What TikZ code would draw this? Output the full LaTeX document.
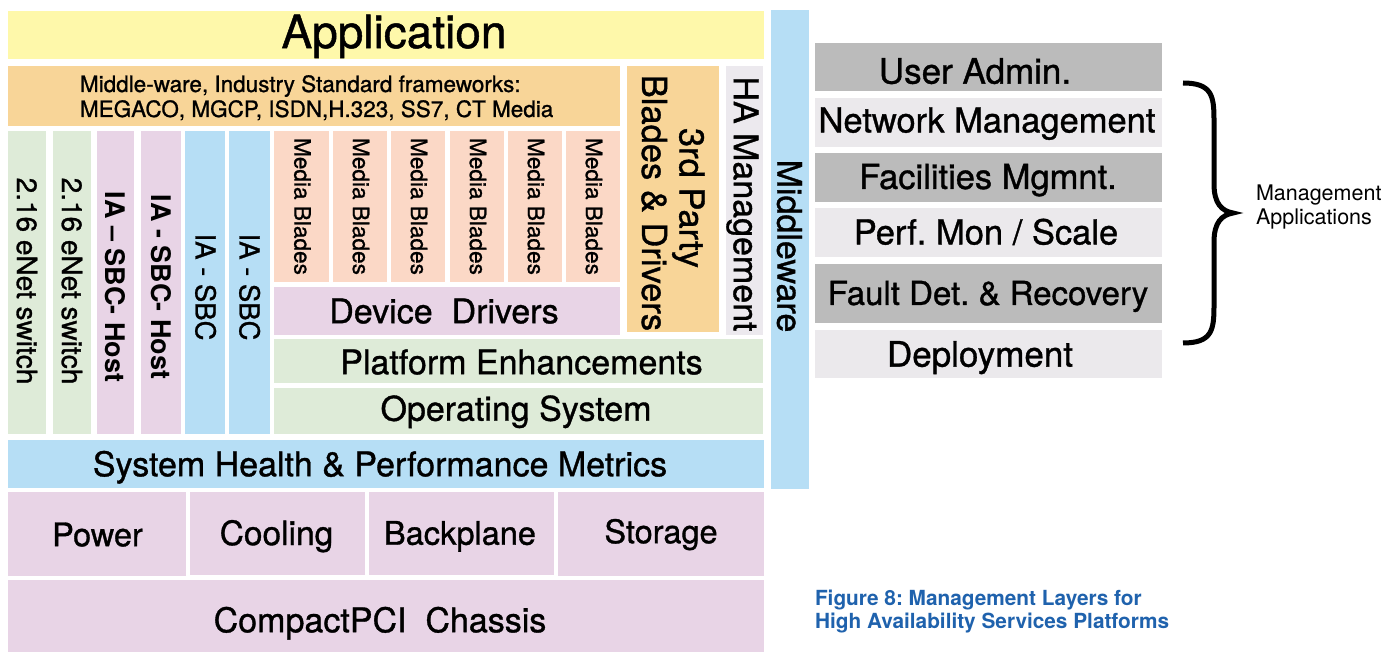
\documentclass[tikz,border=0pt]{standalone}
\usepackage{fontspec}
\setmainfont{TeX Gyre Heros}
% slightly heavier cut for the layer labels
\newfontfamily\hvmed{TeX Gyre Heros}[FakeBold=1.0]
\frenchspacing

\definecolor{appyellow}{HTML}{FEF8AA}
\definecolor{mworange}{HTML}{F8D598}
\definecolor{swgreen}{HTML}{DEEBD8}
\definecolor{mauve}{HTML}{E8D4E6}
\definecolor{skyblue}{HTML}{B6DEF5}
\definecolor{salmon}{HTML}{FBD8C6}
\definecolor{hagray}{HTML}{ECE9EE}
\definecolor{mgdark}{HTML}{BBBBBB}
\definecolor{mglight}{HTML}{EBE9EC}
\definecolor{capblue}{HTML}{1F62AD}

\newcommand{\pxfont}[1]{\fontsize{#1}{#1}\selectfont}

% \layerbox[options]{name}{fill}{x1}{y1}{x2}{y2}
\newcommand{\layerbox}[7][]{%
  \node[layer, fill=#3, minimum width={(#6-#4)*1pt}, minimum height={(#7-#5)*1pt}, #1]
    (#2) at ({(#4+#6)/2},{(#5+#7)/2}) {};}

\tikzset{
  layer/.style={rectangle, draw=none, inner sep=0pt, outer sep=0pt},
  lbl/.style={inner sep=0pt, outer sep=0pt, font=\hvmed\pxfont{#1}, text height={0.72*#1pt}, text depth=0pt},
  vlbl/.style={lbl=#1, rotate=-90},
  line/.style={inner sep=0pt, outer sep=0pt, anchor=base west, font=\pxfont{#1}},
}

\begin{document}
\begin{tikzpicture}[x=1pt,y=-1pt]
\useasboundingbox[fill=white] (0,0) rectangle (1395,652);

% ---------- top layers ----------
\layerbox{app}{appyellow}{8}{11}{764}{59}
\node[lbl=46] (appT) at (394,31.5) {Application};

\layerbox{mw}{mworange}{8}{66}{620}{126}
\node[line=22.5, font=\hvmed\pxfont{22.5}] (mwT1) at (80,92) {Middle-ware, Industry Standard frameworks:};
\node[line=22.5, font=\hvmed\pxfont{22.5}] (mwT2) at (80,117) {MEGACO, MGCP, ISDN,H.323, SS7, CT Media};

\layerbox{tp}{mworange}{627}{66}{719}{332}
\node[vlbl=34.5] (tpT1) at (692,198) {3rd Party};
\node[vlbl=34.5] (tpT2) at (654.5,203) {Blades \& Drivers};

\layerbox{ha}{hagray}{726}{66}{763}{335}
\node[vlbl=34] (haT) at (746,204) {HA Management};

\layerbox{mid}{skyblue}{771}{10}{809}{489}
\node[vlbl=34] (midT) at (789.5,246) {Middleware};

% ---------- boards ----------
\layerbox{c1}{swgreen}{8}{131}{46}{434}
\node[vlbl=28] (c1T) at (27,281) {2.16 eNet switch};
\layerbox{c2}{swgreen}{53}{131}{91}{434}
\node[vlbl=28] (c2T) at (72,281) {2.16 eNet switch};
\layerbox{c3}{mauve}{97}{131}{134}{434}
\node[vlbl=27, font=\pxfont{27}\bfseries] (c3T) at (115.5,287) {IA – SBC- Host};
\layerbox{c4}{mauve}{141}{131}{181}{434}
\node[vlbl=27, font=\pxfont{27}\bfseries] (c4T) at (161,287) {IA - SBC- Host};
\layerbox{c5}{skyblue}{185}{131}{225}{434}
\node[vlbl=27.5] (c5T) at (205.5,287) {IA - SBC};
\layerbox{c6}{skyblue}{229}{131}{270}{434}
\node[vlbl=27.5] (c6T) at (249.5,287) {IA - SBC};

% ---------- media blades ----------
\foreach \i/\a/\b in {1/274/329, 2/333/387, 3/391/445, 4/450/504, 5/508/562, 6/566/620}{
  \layerbox{mb\i}{salmon}{\a}{131}{\b}{282}
  \node[vlbl=22.6] (mb\i T) at ({(\a+\b)/2+1},206.5) {Media Blades};
}

% ---------- software stack ----------
\layerbox{dd}{mauve}{274}{287}{620}{335}
\node[lbl=34] (ddT) at (444,311) {Device\ \ Drivers};
\layerbox{pe}{swgreen}{274}{339}{763}{383}
\node[lbl=34] (peT) at (521.5,362) {Platform Enhancements};
\layerbox{os}{swgreen}{274}{388}{763}{434}
\node[lbl=34] (osT) at (516,408.5) {Operating System};
\layerbox{sh}{skyblue}{8}{440}{764}{488}
\node[lbl=34] (shT) at (380,464) {System Health \& Performance Metrics};

% ---------- hardware ----------
\layerbox{pw}{mauve}{8}{492}{186}{576}
\node[lbl=32.5] (pwT) at (97.5,534.5) {Power};
\layerbox{co}{mauve}{190}{492}{365}{575}
\node[lbl=33.5] (coT) at (276.5,533) {Cooling};
\layerbox{bp}{mauve}{369}{492}{554}{575}
\node[lbl=32.5] (bpT) at (460,533) {Backplane};
\layerbox{st}{mauve}{558}{492}{764}{576}
\node[lbl=32.5] (stT) at (661,531.5) {Storage};
\layerbox{ch}{mauve}{8}{580}{764}{652}
\node[lbl=34] (chT) at (380,620) {CompactPCI\ \ Chassis};

% ---------- management applications ----------
\layerbox{ua}{mgdark}{815}{43}{1162}{91}
\node[lbl=35] (uaT) at (975,71) {User Admin.};
\layerbox{nm}{mglight}{815}{98}{1162}{147}
\node[lbl=34.5] (nmT) at (987,120) {Network Management};
\layerbox{fm}{mgdark}{815}{153}{1162}{202}
\node[lbl=34.5] (fmT) at (988,176.5) {Facilities Mgmnt.};
\layerbox{pm}{mglight}{815}{208}{1162}{257}
\node[lbl=34.5] (pmT) at (986,232) {Perf. Mon / Scale};
\layerbox{fd}{mgdark}{815}{264}{1162}{323}
\node[lbl=33] (fdT) at (988,293) {Fault Det. \& Recovery};
\layerbox{dp}{mglight}{815}{330}{1162}{378}
\node[lbl=35] (dpT) at (980,354) {Deployment};

% brace grouping the management applications
\coordinate (brTop) at (1183,83);
\coordinate (brTip) at (1233,213);
\coordinate (brBot) at (1183,343);
\draw[line width=5pt, line join=miter, line cap=butt]
  (brTop) .. controls (1212,83) and (1214,96) .. (1214,120)
  -- (1214,184) .. controls (1214,204) and (1222,211) .. (brTip)
  .. controls (1222,215) and (1214,222) .. (1214,242)
  -- (1214,306) .. controls (1214,330) and (1212,343) .. (brBot);

\node[line=21.5] (maT1) at (1256,201) {Management};
\node[line=21.5] (maT2) at (1256,225) {Applications};

% ---------- caption ----------
\node[line=20.8, font=\pxfont{20.8}\bfseries, text=capblue] (cap1) at (815,605) {Figure 8: Management Layers for};
\node[line=20.8, font=\pxfont{20.8}\bfseries, text=capblue] (cap2) at (815,628) {High Availability Services Platforms};
\end{tikzpicture}
\end{document}
